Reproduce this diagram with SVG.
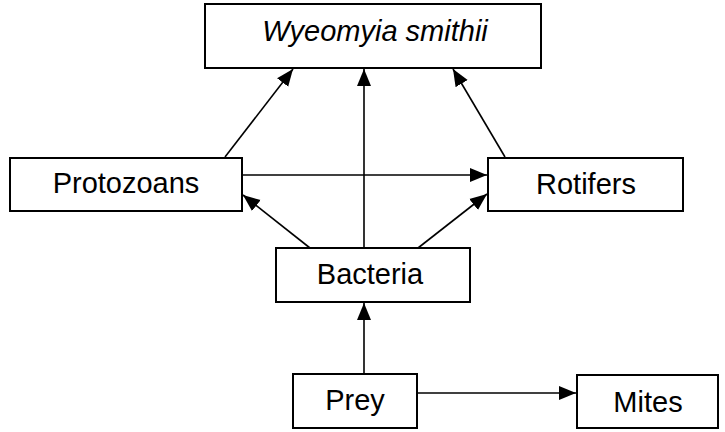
<svg xmlns="http://www.w3.org/2000/svg" width="725" height="432" viewBox="0 0 725 432">
<style>
.box{fill:#fff;stroke:#000;stroke-width:2}
.lbl{font-family:"Liberation Sans",Arial,sans-serif;font-size:29px;fill:#000;text-anchor:middle}
.it{font-style:italic}
.edge{fill:none;stroke:#000;stroke-width:1.6;marker-end:url(#ah)}
</style>
<defs>
<marker id="ah" markerUnits="userSpaceOnUse" markerWidth="18" markerHeight="16" refX="17" refY="8" orient="auto">
<path d="M0,1 L17,8 L0,15 Z" fill="#000"/>
</marker>
</defs>
<rect width="725" height="432" fill="#fff"/>
<g id="connectors">
<line class="edge" x1="225" y1="157" x2="293" y2="69"/>
<line class="edge" x1="364" y1="248" x2="364" y2="69"/>
<line class="edge" x1="505" y1="157" x2="453" y2="69"/>
<line class="edge" x1="242" y1="175" x2="487" y2="175"/>
<line class="edge" x1="310" y1="248" x2="243" y2="195"/>
<line class="edge" x1="418" y1="248" x2="487" y2="194"/>
<line class="edge" x1="364" y1="373" x2="364" y2="303"/>
<line class="edge" x1="417" y1="393" x2="576" y2="393"/>
</g>
<g id="wyeomyia">
<rect class="box" x="205" y="4" width="336" height="64"/>
<text class="lbl it" x="375" y="41">Wyeomyia smithii</text>
</g>
<g id="protozoans">
<rect class="box" x="10" y="158" width="232" height="53"/>
<text class="lbl" x="126" y="193">Protozoans</text>
</g>
<g id="rotifers">
<rect class="box" x="488" y="158" width="195" height="53"/>
<text class="lbl" x="586" y="194">Rotifers</text>
</g>
<g id="bacteria">
<rect class="box" x="276" y="248" width="194" height="54"/>
<text class="lbl" x="370" y="284">Bacteria</text>
</g>
<g id="prey">
<rect class="box" x="293" y="374" width="124" height="54"/>
<text class="lbl" x="355" y="410">Prey</text>
</g>
<g id="mites">
<rect class="box" x="577" y="375" width="141" height="53"/>
<text class="lbl" x="648" y="412">Mites</text>
</g>
</svg>
